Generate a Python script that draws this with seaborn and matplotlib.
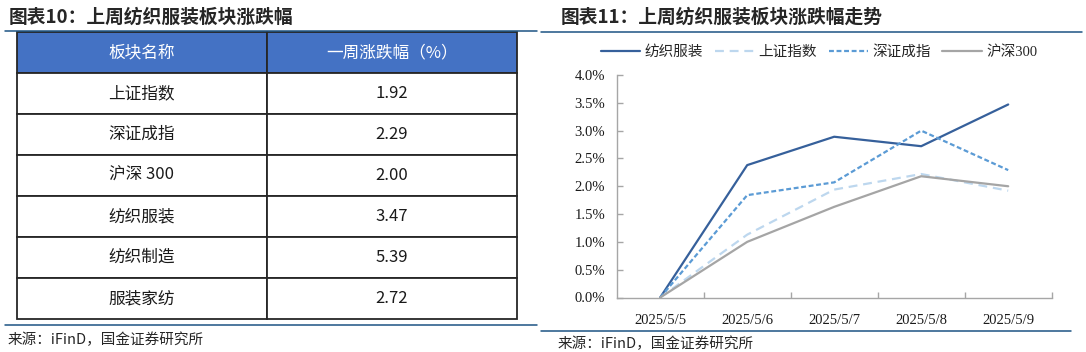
import matplotlib
matplotlib.use('Agg')
import matplotlib.pyplot as plt
import seaborn as sns
import pandas as pd
from matplotlib.lines import Line2D

# 数据
dates = ['2025/5/5', '2025/5/6', '2025/5/7', '2025/5/8', '2025/5/9']
fangzhi = [0.0, 2.38, 2.89, 2.72, 3.47]
shangzheng = [0.0, 1.13, 1.94, 2.22, 1.92]
shenzheng = [0.0, 1.84, 2.07, 3.00, 2.29]
hs300 = [0.0, 1.00, 1.63, 2.18, 2.00]
series_names = ['纺织服装', '上证指数', '深证成指', '沪深300']

table_header = ['板块名称', '一周涨跌幅（%）']
table_names = ['上证指数', '深证成指', '沪深 300', '纺织服装', '纺织制造', '服装家纺']
table_vals = ['1.92', '2.29', '2.00', '3.47', '5.39', '2.72']

W, H = 1086, 352
CJK = 'Noto Sans CJK SC'

sns.set_theme(style='white')
plt.rcParams['font.family'] = [CJK, 'DejaVu Sans']

fig = plt.figure(figsize=(W / 100, H / 100), dpi=100)


def fx(x):
    return x / W


def fy(y):
    return 1 - y / H


# 标题和分隔线
fig.text(fx(8.6), fy(17), '图表10：上周纺织服装板块涨跌幅', fontsize=13.5,
         fontweight='bold', va='center', ha='left')
fig.text(fx(561), fy(17), '图表11：上周纺织服装板块涨跌幅走势', fontsize=13.5,
         fontweight='bold', va='center', ha='left')
line_col = '#1C5484'
for x0, x1, y in [(5, 537, 31), (541, 1082, 32), (5, 537, 325), (541, 1071, 331)]:
    fig.add_artist(Line2D([fx(x0), fx(x1)], [fy(y), fy(y)], color=line_col, lw=1.1))
fig.text(fx(8), fy(339.6), '来源：iFinD，国金证券研究所', fontsize=10.5, va='center')
fig.text(fx(558), fy(344), '来源：iFinD，国金证券研究所', fontsize=10.5, va='center')

# 左侧表格
tax = fig.add_axes([fx(16.5), fy(319), 500.5 / W, 287 / H])
tax.axis('off')
cells = [[n, v] for n, v in zip(table_names, table_vals)]
tbl = tax.table(cellText=cells, colLabels=table_header, cellLoc='center',
                colWidths=[0.5, 0.5], bbox=[0, 0, 1, 1])
tbl.auto_set_font_size(False)
for (r, c), cell in tbl.get_celld().items():
    cell.set_edgecolor('#262626')
    cell.set_linewidth(1.3)
    t = cell.get_text()
    t.set_fontfamily(CJK)
    t.set_fontsize(12)
    if r == 0:
        cell.set_facecolor('#4472C4')
        t.set_color('white')
    else:
        cell.set_facecolor('white')
        t.set_color('#1a1a1a')

# 右侧折线图
df = pd.DataFrame({
    'date': dates * 4,
    'value': fangzhi + shangzheng + shenzheng + hs300,
    'series': [s for s in series_names for _ in dates],
})
palette = {'纺织服装': '#36609B', '上证指数': '#BDD7EE',
           '深证成指': '#5B9BD5', '沪深300': '#A5A5A5'}
dashes = {'纺织服装': '', '上证指数': (4, 2.6), '深证成指': (2.2, 1.2), '沪深300': ''}

ax = fig.add_axes([fx(616.7), fy(297.5), 435 / W, (297.5 - 75) / H])
sns.lineplot(data=df, x='date', y='value', hue='series', style='series',
             hue_order=series_names, style_order=series_names,
             palette=palette, dashes=dashes, linewidth=1.6, ax=ax)

ax.set_xlim(-0.5, 4.5)
ax.set_ylim(0, 4)
yt = [i * 0.5 for i in range(9)]
ax.set_yticks(yt)
ax.set_yticklabels([f'{v:.1f}%' for v in yt], family='Liberation Serif', fontsize=10.5)
ax.set_xticks(range(len(dates)))
ax.set_xticklabels(dates, family='Liberation Serif', fontsize=10.5)
ax.set_xticks([i + 0.5 for i in range(len(dates))], minor=True)
ax.set_xlabel('')
ax.set_ylabel('')
for s in ['top', 'right']:
    ax.spines[s].set_visible(False)
for s in ['left', 'bottom']:
    ax.spines[s].set_color('#A6A6A6')
    ax.spines[s].set_linewidth(1.0)
ax.tick_params(axis='y', direction='in', length=4, width=1, color='#A6A6A6',
               pad=8.4, left=True, labelcolor='#1a1a1a')
ax.tick_params(axis='x', which='major', length=0, pad=12, labelcolor='#1a1a1a')
ax.tick_params(axis='x', which='minor', direction='in', length=4, width=1,
               color='#A6A6A6', bottom=True)

handles, labels = ax.get_legend_handles_labels()
ax.legend(handles, labels, loc='center', bbox_to_anchor=(fx(819), fy(52)),
          bbox_transform=fig.transFigure, ncol=4, frameon=False,
          prop={'family': ['Liberation Serif', CJK], 'size': 10.5},
          handlelength=2.7, handletextpad=0.3, columnspacing=0.8)

fig.savefig('out.png', dpi=100)
